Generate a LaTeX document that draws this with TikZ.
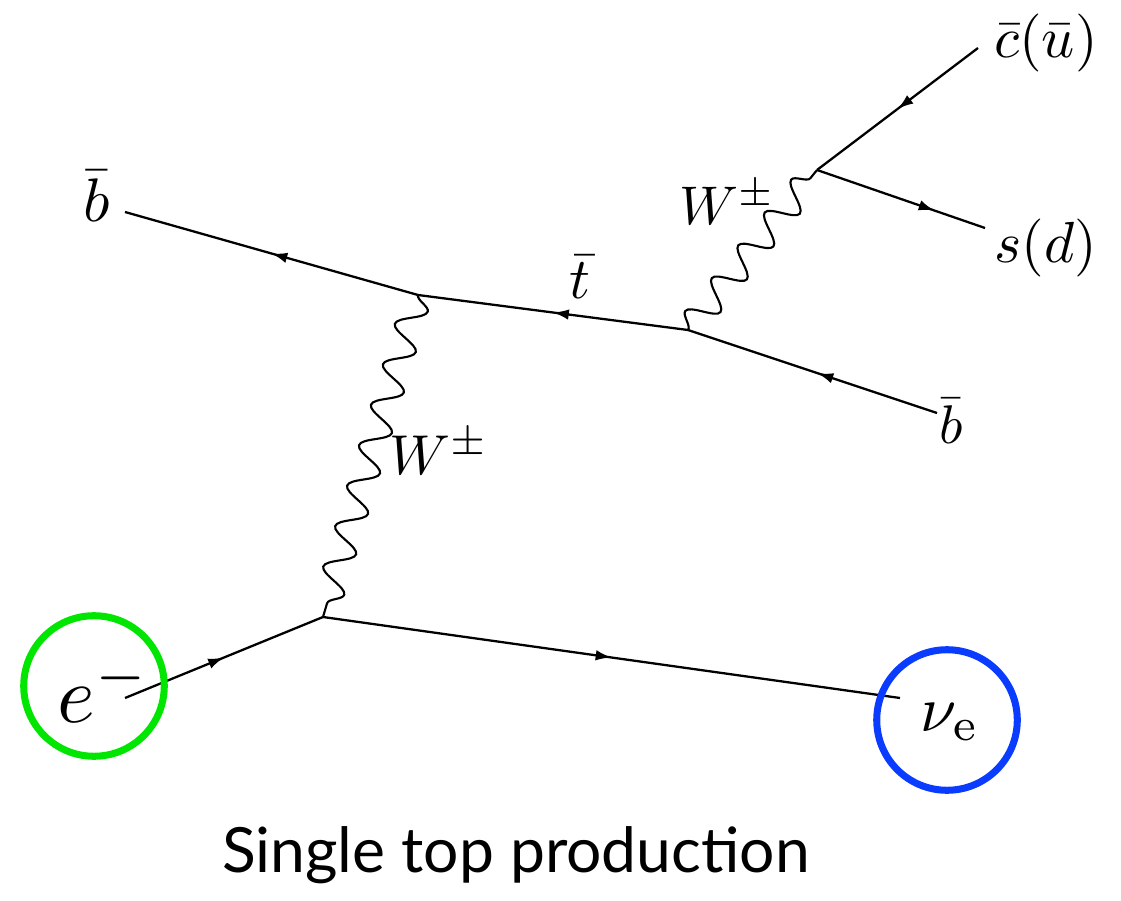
\documentclass[tikz,border=0pt]{standalone}
\usepackage[no-math]{fontspec}
\newfontfamily\capfont{Lato}
\usetikzlibrary{arrows.meta,decorations.pathmorphing,decorations.markings}
\definecolor{ringgreen}{HTML}{00E600}
\definecolor{ringblue}{HTML}{0A3CFF}
\newcommand{\plabel}[2]{\scalebox{#1}{$#2$}}
\tikzset{
  fermion/.style={line width=1.3pt,postaction={decorate},decoration={markings,mark=at position #1 with {\arrow{Latex[length=9pt,width=6pt]}}}},
  fermion/.default=0.5,
  boson/.style={line width=1.2pt,decorate,decoration={snake,segment length=24pt,amplitude=8pt}},
  lbl/.style={inner sep=0pt},
  ring/.style={circle,draw=#1,line width=4pt,minimum size=80pt,inner sep=0pt},
  caption/.style={inner sep=0pt,font=\capfont\fontsize{35.5}{40}\selectfont}
}
\begin{document}
\begin{tikzpicture}[x=0.02cm,y=-0.02cm]
  \useasboundingbox (0,0) rectangle (1121,901);
  \coordinate (v1) at (418,295);
  \coordinate (v2) at (688,330);
  \coordinate (v3) at (817,170);
  \coordinate (v4) at (323,617);
  \coordinate (bInEnd) at (125,212);
  \coordinate (bOutEnd) at (937,413);
  \coordinate (cEnd) at (978,48);
  \coordinate (sEnd) at (985,228);
  \coordinate (eEnd) at (125,698);
  \coordinate (nuEnd) at (900,698);

  \draw[fermion] (v1) -- (bInEnd);
  \draw[fermion] (v2) -- (v1);
  \draw[fermion=0.48] (bOutEnd) -- (v2);
  \draw[fermion] (cEnd) -- (v3);
  \draw[fermion=0.7] (v3) -- (sEnd);
  \draw[fermion] (eEnd) -- (v4);
  \draw[fermion] (v4) -- (nuEnd);
  \draw[boson] (v1) -- (v4);
  \draw[boson] (v2) -- (v3);

  \node[lbl] (bIn) at (97,196) {\plabel{3.5}{\bar b}};
  \node[lbl] (tBar) at (580,277) {\plabel{3.3}{\bar t}};
  \node[lbl] (bOut) at (951,421) {\plabel{3.1}{\bar b}};
  \node[lbl] (cu) at (1046,43) {\plabel{3.3}{\bar c(\bar u)}};
  \node[lbl] (sd) at (1046,248) {\plabel{3.3}{s(d)}};
  \node[lbl] (wTop) at (727,203) {\plabel{3.1}{W^\pm}};
  \node[lbl] (wLow) at (439,452) {\plabel{3.2}{W^\pm}};
  \node[lbl] (el) at (104,690) {\plabel{4.6}{e^-}};
  \node[lbl] (nu) at (950,722) {\plabel{3.7}{\nu_{\mathrm{e}}}};

  \node[ring=ringgreen] (elRing) at (94,686) {};
  \node[ring=ringblue] (nuRing) at (947,720) {};

  \node[caption,anchor=base] (title) at (516,872) {Single top production};
\end{tikzpicture}
\end{document}
